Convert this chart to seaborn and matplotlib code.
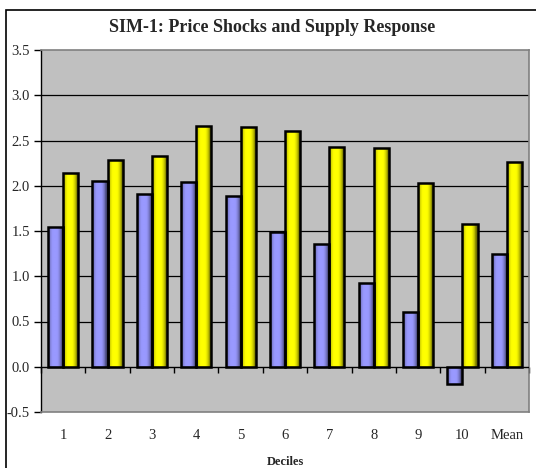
import numpy as np
import pandas as pd
import matplotlib
matplotlib.use("Agg")
import matplotlib.pyplot as plt
import matplotlib.colors as mcolors
import seaborn as sns
from matplotlib.patches import Rectangle

categories = ["1", "2", "3", "4", "5", "6", "7", "8", "9", "10", "Mean"]
series_a = [1.54, 2.05, 1.91, 2.04, 1.89, 1.49, 1.36, 0.93, 0.60, -0.19, 1.25]
series_b = [2.14, 2.28, 2.33, 2.66, 2.65, 2.60, 2.43, 2.42, 2.03, 1.58, 2.26]
series_names = ["Series A", "Series B"]
colors = ["#9999FF", "#FFFF00"]
yticks = [-0.5, 0.0, 0.5, 1.0, 1.5, 2.0, 2.5, 3.0, 3.5]

df = pd.DataFrame({
    "decile": categories * 2,
    "value": series_a + series_b,
    "series": [series_names[0]] * len(categories) + [series_names[1]] * len(categories),
})

sns.set_style("white")
plt.rcParams["font.family"] = ["Liberation Serif", "DejaVu Serif"]

fig = plt.figure(figsize=(5.36, 4.68), dpi=100)
fig.patches.append(Rectangle((6 / 536, -0.05), 1.2, (458 / 468) + 0.05, transform=fig.transFigure,
                             fill=False, edgecolor="black", linewidth=1.2, zorder=0))
ax = fig.add_axes([41 / 536, 56 / 468, 488 / 536, 362 / 468])
ax.set_facecolor("#C0C0C0")

sns.barplot(data=df, x="decile", y="value", hue="series", order=categories,
            hue_order=series_names, palette=colors, width=0.68, saturation=1,
            edgecolor="black", linewidth=1.8, legend=False, ax=ax, zorder=3)

ax.set_ylim(yticks[0], yticks[-1])
ax.set_xlim(-0.5, len(categories) - 0.5)

# cylinder-like shading inside each bar
t = np.linspace(0, 1, 64)
shade = 0.45 + 0.6 * np.clip(np.sin(np.pi * np.clip(t * 1.15, 0, 1)) ** 0.6, 0, 1)
shade = np.minimum(shade, 1.0)
for p in list(ax.patches):
    w = p.get_width()
    h = p.get_height()
    if w <= 0 or h == 0:
        continue
    base = np.array(mcolors.to_rgb(p.get_facecolor()))
    img = np.clip(base[None, :] * shade[:, None], 0, 1)
    img = img[None, :, :]
    x0, y0 = p.get_x(), p.get_y()
    im = ax.imshow(img, extent=(x0, x0 + w, min(y0, y0 + h), max(y0, y0 + h)),
                   aspect="auto", interpolation="bilinear", zorder=3.1)
    im.set_clip_path(p)
    p.set_facecolor("none")
    p.set_zorder(3.2)

ax.set_ylim(yticks[0], yticks[-1])
ax.set_xlim(-0.5, len(categories) - 0.5)
ax.set_yticks(yticks)
ax.set_yticklabels([f"{v:.1f}" for v in yticks], fontsize=10.5)
ax.tick_params(axis="y", direction="out", length=5, width=1, color="black", pad=3, left=True)
for v in yticks[2:-1]:
    ax.axhline(v, color="black", linewidth=0.9, zorder=1)
ax.axhline(0, color="black", linewidth=1.0, zorder=4)

ax.set_xticks(range(len(categories)))
ax.set_xticklabels(categories, fontsize=10.5)
ax.tick_params(axis="x", length=0, pad=12)

sec = ax.secondary_xaxis(0.5 / 4.0)
sec.set_xticks(np.arange(len(categories) + 1) - 0.5)
sec.set_xticklabels([])
sec.tick_params(axis="x", direction="out", length=4, width=1, color="black")
sec.spines["bottom"].set_visible(False)

for s in ["top", "right", "bottom"]:
    ax.spines[s].set_color("#808080")
    ax.spines[s].set_linewidth(1.2)
ax.spines["left"].set_color("black")
ax.spines["left"].set_linewidth(1.0)

ax.set_xlabel("Deciles", fontsize=9, fontweight="bold", labelpad=10)
ax.set_ylabel("")
fig.text(272 / 536, 1 - 28 / 468, "SIM-1: Price Shocks and Supply Response",
         ha="center", va="center", fontsize=13, fontweight="bold")

fig.savefig("out.png", dpi=100)
